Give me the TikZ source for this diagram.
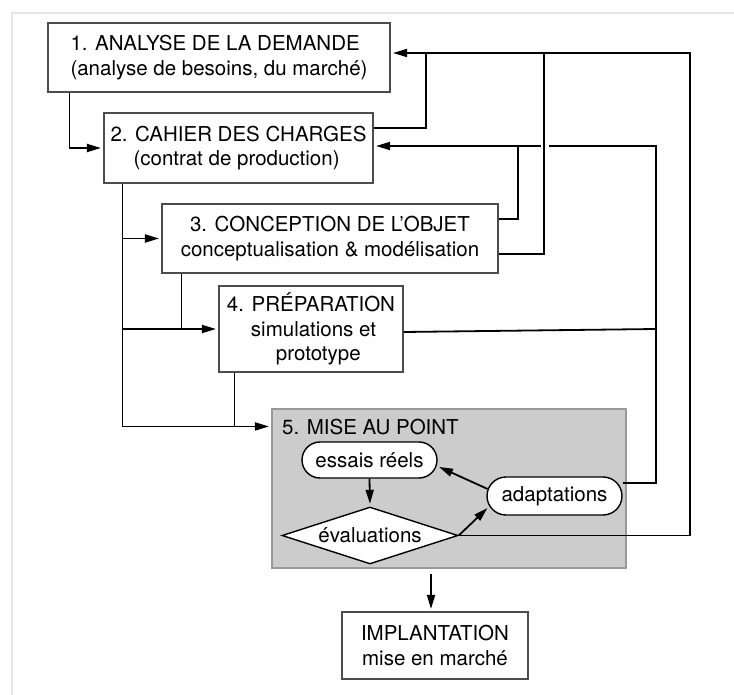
\documentclass[tikz,border=0pt]{standalone}
\usepackage{fontspec}
\setmainfont{TeX Gyre Heros}
\usetikzlibrary{arrows.meta}
\usetikzlibrary{shapes.geometric}
\usetikzlibrary{shapes.misc}
\newcommand{\boxfont}{\fontsize{20.5}{24.5}\selectfont}

\begin{document}
\begin{tikzpicture}[x=1pt,y=-1pt]
    \useasboundingbox (0,0) rectangle (734,695);
    \draw[line width=2pt,draw=black!10] (734,13) -- (12,13) -- (12,695);

    % stages
    \begin{scope}[every node/.style={rectangle,draw=black!70,line width=1.1pt,font=\boxfont,inner sep=0pt}]
        \node[minimum width=342pt,minimum height=69pt,align=left] (ana) at (219,57.5) {1. ANALYSE DE LA DEMANDE\\(analyse de besoins, du march\'e)};
        \node[minimum width=269pt,minimum height=70pt,align=left] (cahier) at (238.5,148) {2. CAHIER DES CHARGES\\\hspace*{23pt}(contrat de production)};
        \node[minimum width=336pt,minimum height=69pt,align=center] (concep) at (330,238.5) {3. CONCEPTION DE L'OBJET\\conceptualisation \& mod\'elisation};
        \node[minimum width=184pt,minimum height=86pt,align=left] (prep) at (311,329) {4. PR\'EPARATION\\\hspace*{24pt}simulations et\\\hspace*{49pt}prototype};
        \node[fill=black!20,draw=black!40,minimum width=354pt,minimum height=159pt] (mise) at (449,488.5) {};
        \node[minimum width=186pt,minimum height=67pt,align=center] (impl) at (435,645.5) {IMPLANTATION\\mise en march\'e};
    \end{scope}

    % inside the test loop
    \begin{scope}[every node/.style={draw=black,line width=1.4pt,fill=white,font=\boxfont,inner sep=0pt}]
        \node[anchor=base west,draw=none,fill=none] (misetitle) at ([xshift=10pt,yshift=-26pt]mise.north west) {5. MISE AU POINT};
        \node[rounded rectangle,minimum width=135pt,minimum height=36pt] (essais) at (369.5,460) {essais r\'eels};
        \node[rounded rectangle,minimum width=135pt,minimum height=38pt] (adapt) at (554.5,496) {adaptations};
        \node[diamond,aspect=3.1,minimum width=176pt,minimum height=57pt] (eval) at (370,535.5) {\'evaluations};
    \end{scope}

    \coordinate (topright) at (690,53);
    \coordinate (midright) at (656,146);
    \coordinate (jana) at (426,53);
    \coordinate (jconc) at (544,53);
    \coordinate (jcah) at (518,146);
    \coordinate (trunk) at ([xshift=19pt]cahier.south west);
    \coordinate (concdown) at ([xshift=20pt]concep.south west);
    \coordinate (prepdown) at ([xshift=16pt]prep.south west);
    \coordinate (misein) at ([yshift=-18pt]mise.north west);
    \coordinate (implin) at ([xshift=-4pt]impl.north);

    \begin{scope}[>={Triangle[length=14pt,width=8pt]},line width=1.8pt,
        flow/.style={->,shorten >=2.5pt}]
        % forward path
        \draw[flow] ([xshift=22pt]ana.south west) |- (cahier.west);
        \draw[flow] (trunk) |- (concep.west);
        \draw[flow] (trunk) |- (misein);
        \draw[flow] (trunk |- prep.west) -- (prep.west);
        \draw (concdown) -- (concdown |- prep.west);
        \draw (prepdown) -- (prepdown |- misein);
        \draw[flow,shorten <=5pt] (implin |- mise.south) -- (implin);

        % loop
        \draw[flow] (essais.south) -- (eval.north);
        \draw[flow] (eval.east) -- (adapt.189);
        \draw[flow] (adapt.174) -- (essais.355);

        % feedback
        \draw[flow] ([yshift=13pt]adapt.east) -| (midright) -- (midright -| cahier.east);
        \draw ([yshift=-3pt]prep.east) -- (prep.east -| midright);
        \draw ([yshift=19.5pt]concep.east) -| (jcah);
        \fill[white] ([xshift=-3pt,yshift=-4pt]jconc |- midright) rectangle ([xshift=5pt,yshift=4pt]jconc |- midright);
        \draw ([yshift=-15.5pt]concep.east) -| (jconc);
        \draw ([yshift=20pt]cahier.east) -| (jana);
        \draw[flow] (eval.east) -| (topright) -- (topright -| ana.east);
    \end{scope}
\end{tikzpicture}
\end{document}
